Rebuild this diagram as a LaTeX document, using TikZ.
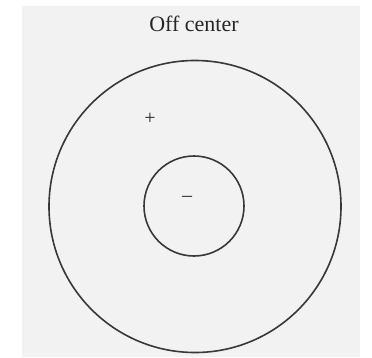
\documentclass[tikz,border=0pt]{standalone}
\usepackage{fontspec}
\setmainfont{Liberation Serif}
\begin{document}
\begin{tikzpicture}[x=1pt,y=1pt,
  ring/.style={draw=black!78, line width=1.6pt, circle, inner sep=0pt},
  lbl/.style={text=black!85, inner sep=0pt, font=\fontsize{22}{26}\selectfont}]
\useasboundingbox (0,0) rectangle (372,357);
\fill[white] (0,0) rectangle (372,357);
\fill[black!5] (22,0) rectangle (360,351);
\node[lbl] (title) at (194,333) {Off center};
\node[ring, minimum size=292pt] (outer) at (195,150.5) {};
\node[ring, minimum size=100pt] (inner) at (194,151) {};
\node[lbl, font=\fontsize{20}{24}\selectfont] (plus) at (150,238.5) {+};
\node[lbl, font=\fontsize{20}{24}\selectfont] (minus) at (187,158.5) {–};
\end{tikzpicture}
\end{document}
